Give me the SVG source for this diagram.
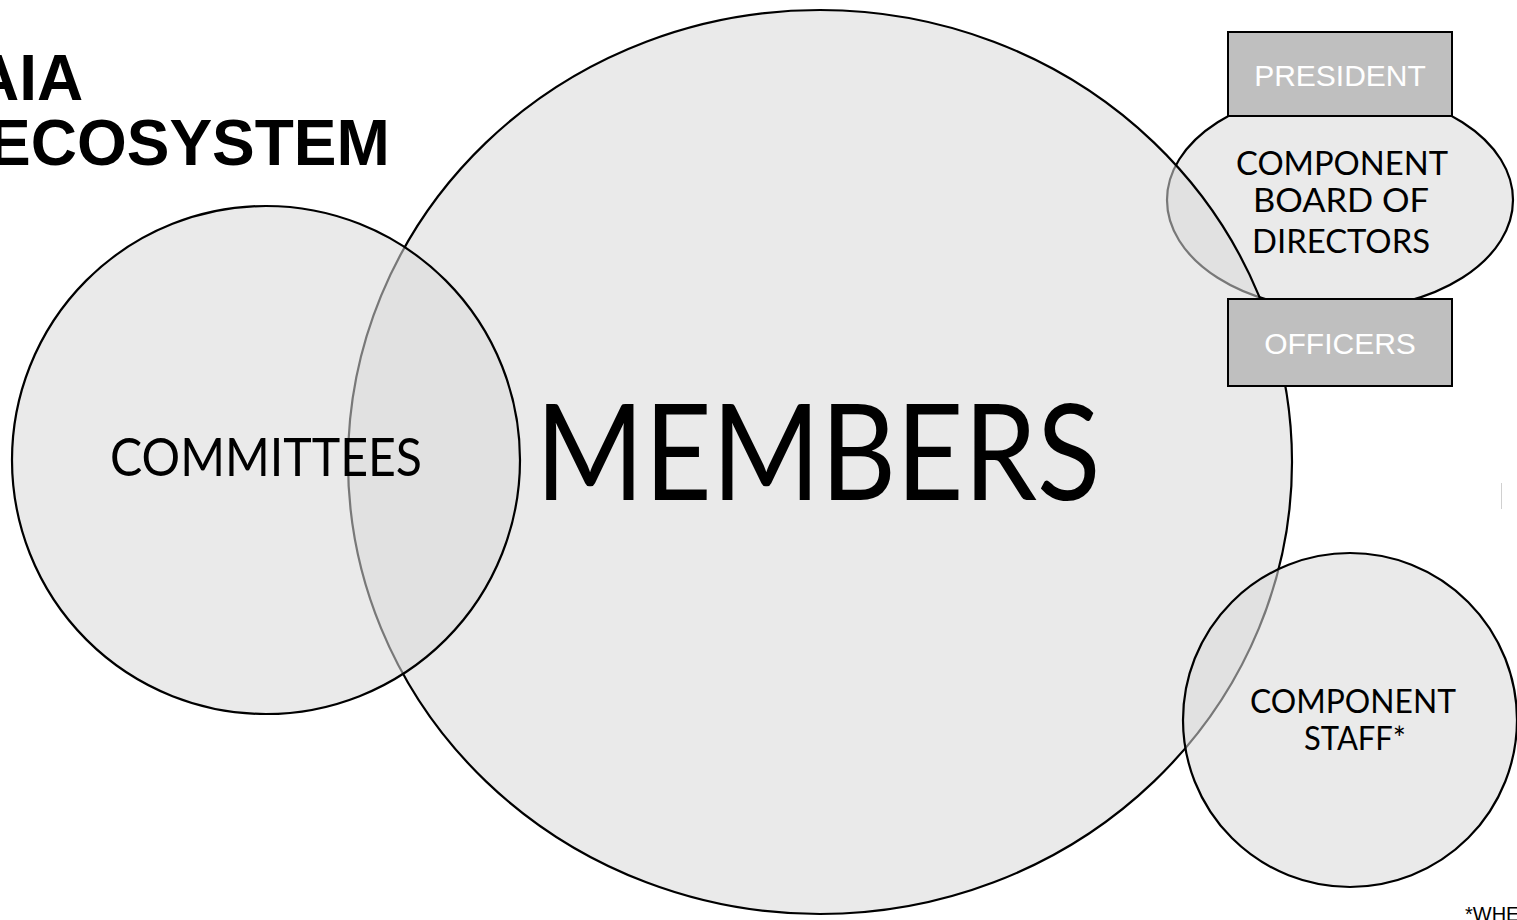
<svg xmlns="http://www.w3.org/2000/svg" width="1517" height="920" viewBox="0 0 1517 920">
<style>
.blob{fill:#d9d9d9;fill-opacity:0.553;stroke:#000;stroke-width:2.2}
.box{fill:#bfbfbf;stroke:#000;stroke-width:2}
.lbl{font-family:Lato,"Noto Sans",sans-serif;fill:#000;text-anchor:middle}
.boxt{font-family:"Liberation Sans",Arial,sans-serif;font-size:30px;fill:#fff;text-anchor:middle}
.title{font-family:"Liberation Sans",Arial,sans-serif;font-weight:bold;font-size:64px;fill:#000}
</style>
<rect width="1517" height="920" fill="#fff"/>
<g id="title">
<text class="title" x="-27" y="100">AIA</text>
<text class="title" x="-12" y="165">ECOSYSTEM</text>
</g>
<g id="board">
<ellipse class="blob" cx="1340" cy="200" rx="173" ry="110"/>
<text class="lbl" x="1342" y="175" font-size="32" textLength="212" lengthAdjust="spacingAndGlyphs">COMPONENT</text>
<text class="lbl" x="1341" y="212" font-size="32" textLength="176" lengthAdjust="spacingAndGlyphs">BOARD OF</text>
<text class="lbl" x="1341" y="253" font-size="32" textLength="178" lengthAdjust="spacingAndGlyphs">DIRECTORS</text>
</g>
<g id="members">
<ellipse class="blob" cx="820" cy="462" rx="472" ry="452"/>
<text class="lbl" x="818" y="500" font-size="133" textLength="565" lengthAdjust="spacingAndGlyphs">MEMBERS</text>
</g>
<g id="committees">
<circle class="blob" cx="266" cy="460" r="254"/>
<text class="lbl" x="266" y="476" font-size="53" textLength="312" lengthAdjust="spacingAndGlyphs">COMMITTEES</text>
</g>
<g id="staff">
<circle class="blob" cx="1350" cy="720" r="167"/>
<text class="lbl" x="1353" y="713" font-size="32" textLength="206" lengthAdjust="spacingAndGlyphs">COMPONENT</text>
<text class="lbl" x="1355" y="750" font-size="32" textLength="102" lengthAdjust="spacingAndGlyphs">STAFF*</text>
</g>
<g id="president">
<rect class="box" x="1228" y="32" width="224" height="84"/>
<text class="boxt" x="1340" y="86">PRESIDENT</text>
</g>
<g id="officers">
<rect class="box" x="1228" y="299" width="224" height="87"/>
<text class="boxt" x="1340" y="354">OFFICERS</text>
</g>
<g id="connectors"></g>
<line x1="1501.5" y1="483" x2="1501.5" y2="509" stroke="#d0d0d0" stroke-width="1"/>
<text x="1465" y="921" font-family="'Liberation Sans',Arial,sans-serif" font-size="20" fill="#000">*WHE</text>
</svg>
